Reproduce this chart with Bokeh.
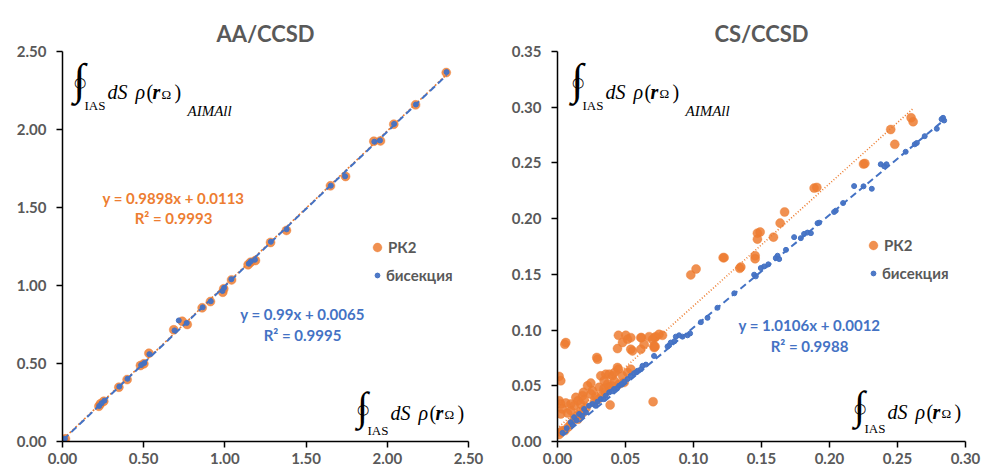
import numpy as np
from bokeh.plotting import figure
from bokeh.models import Range1d, Label, FixedTicker, NumeralTickFormatter, Legend, LegendItem
from bokeh.layouts import row
from bokeh.embed import file_html
from bokeh.resources import INLINE

ORANGE = "#ED7D31"
BLUE = "#4472C4"
GREY = "#595959"
FONT = "Lato"
SERIF = "Liberation Serif"

# ---------------- data: AA/CCSD ----------------
aa_rk2_x = [0.008, 0.018, 0.224, 0.234, 0.254, 0.347, 0.398, 0.480, 0.501, 0.532, 0.685, 0.737, 0.768,
            0.860, 0.911, 0.987, 0.993, 1.041, 1.143, 1.158, 1.188, 1.281, 1.379, 1.650, 1.743, 1.917,
            1.958, 2.040, 2.174, 2.363]
aa_rk2_y = [0.006, 0.017, 0.226, 0.242, 0.258, 0.348, 0.397, 0.487, 0.498, 0.566, 0.716, 0.771, 0.750,
            0.857, 0.897, 0.957, 0.979, 1.036, 1.133, 1.149, 1.160, 1.276, 1.353, 1.639, 1.699, 1.925,
            1.927, 2.034, 2.158, 2.365]
aa_bis_x = [0.005, 0.015, 0.226, 0.240, 0.258, 0.350, 0.400, 0.484, 0.503, 0.535, 0.690, 0.716, 0.765,
            0.863, 0.913, 0.985, 0.995, 1.040, 1.147, 1.160, 1.185, 1.283, 1.380, 1.652, 1.740, 1.920,
            1.955, 2.042, 2.176, 2.365]
aa_bis_y = [0.004, 0.018, 0.228, 0.245, 0.262, 0.352, 0.402, 0.490, 0.503, 0.560, 0.712, 0.776, 0.760,
            0.860, 0.899, 0.965, 0.985, 1.040, 1.140, 1.155, 1.165, 1.280, 1.360, 1.640, 1.700, 1.922,
            1.930, 2.036, 2.160, 2.368]
aa_rk2_fit = (0.9898, 0.0113)
aa_bis_fit = (0.99, 0.0065)

# ---------------- data: CS/CCSD ----------------
cs_rk2_x = [0.2600, 0.2615, 0.2450, 0.2480, 0.2250, 0.2260, 0.1887, 0.1907, 0.1670, 0.1637, 0.1470, 0.1490,
            0.1588, 0.1470, 0.1453, 0.1453, 0.1218, 0.1225, 0.1348, 0.1340, 0.1019, 0.0980,
            0.0448, 0.0502, 0.0515, 0.0478, 0.0539, 0.0617, 0.0637, 0.0699, 0.0715, 0.0772, 0.0711, 0.0718,
            0.0441, 0.0539, 0.0551, 0.0061, 0.0054, 0.0289, 0.0294, 0.0012, 0.0024,
            0.0245, 0.0318, 0.0355, 0.0380, 0.0404, 0.0421, 0.0441, 0.0448, 0.0478, 0.0515, 0.0490, 0.0453, 0.0539,
            0.0221, 0.0257, 0.0191, 0.0245, 0.0306, 0.0343, 0.0324, 0.0387, 0.0703,
            0.0012, 0.0024, 0.0061, 0.0098, 0.0037, 0.0024, 0.0074,
            0.0135, 0.0151, 0.0171, 0.0122, 0.0098,
            0.0184, 0.0196, 0.0166, 0.0147, 0.0122, 0.0098, 0.0078, 0.0054, 0.0024, 0.0012, 0.0037,
            0.0343, 0.0368, 0.0380,
            0.0613, 0.0674, 0.0723, 0.0747, 0.0613, 0.0710,
            0.0280, 0.0300, 0.0350, 0.0400, 0.0420, 0.0270, 0.0210, 0.0180, 0.0150]
cs_rk2_y = [0.2905, 0.2870, 0.2800, 0.2667, 0.2490, 0.2495, 0.2274, 0.2280, 0.2060, 0.1960, 0.1870, 0.1880,
            0.1834, 0.1816, 0.1667, 0.1640, 0.1650, 0.1650, 0.1566, 0.1554, 0.1548, 0.1495,
            0.0953, 0.0953, 0.0917, 0.0888, 0.0932, 0.0932, 0.0872, 0.0917, 0.0932, 0.0953, 0.0843, 0.0852,
            0.0834, 0.0828, 0.0813, 0.0888, 0.0872, 0.0754, 0.0738, 0.0584, 0.0545,
            0.0524, 0.0589, 0.0604, 0.0604, 0.0589, 0.0620, 0.0664, 0.0649, 0.0589, 0.0620, 0.0530, 0.0515, 0.0649,
            0.0500, 0.0455, 0.0441, 0.0426, 0.0486, 0.0477, 0.0411, 0.0328, 0.0357,
            0.0366, 0.0337, 0.0346, 0.0337, 0.0292, 0.0247, 0.0256,
            0.0396, 0.0366, 0.0337, 0.0321, 0.0277,
            0.0411, 0.0375, 0.0268, 0.0232, 0.0203, 0.0158, 0.0129, 0.0098, 0.0084, 0.0063, 0.0098,
            0.0545, 0.0515, 0.0486,
            0.0932, 0.0941, 0.0941, 0.0962, 0.0828, 0.0857,
            0.0400, 0.0380, 0.0440, 0.0500, 0.0540, 0.0350, 0.0300, 0.0250, 0.0200]
cs_bis_x = [0.2835, 0.2843, 0.2824, 0.2789, 0.2642, 0.2627, 0.2377, 0.2419, 0.2402, 0.2181, 0.2311, 0.2046,
            0.2034, 0.1924, 0.1912, 0.1863, 0.1838, 0.1813, 0.1740, 0.1789, 0.1618, 0.1630, 0.1605, 0.1519,
            0.1495, 0.1458, 0.1446, 0.1176, 0.1103, 0.1054, 0.0975, 0.0956, 0.0919, 0.0894, 0.0870, 0.0833,
            0.0821, 0.0809, 0.0710, 0.0625, 0.0613, 0.0588, 0.0563, 0.0539, 0.0515, 0.0490, 0.0453, 0.0416,
            0.0380, 0.0355, 0.0318, 0.0294, 0.0257, 0.0232, 0.0196, 0.0159, 0.0122, 0.0098, 0.0068, 0.0037,
            0.0470, 0.0440, 0.0400, 0.0340, 0.0280, 0.0210, 0.0180, 0.0140, 0.0110, 0.0580, 0.0650, 0.0860,
            0.1300, 0.1550, 0.1680, 0.2100, 0.2250, 0.2560, 0.2700]
cs_bis_y = [0.2905, 0.2881, 0.2893, 0.2807, 0.2679, 0.2667, 0.2488, 0.2488, 0.2470, 0.2292, 0.2268, 0.2071,
            0.2060, 0.1964, 0.1959, 0.1870, 0.1875, 0.1863, 0.1834, 0.1825, 0.1667, 0.1637, 0.1646, 0.1571,
            0.1557, 0.1482, 0.1497, 0.1200, 0.1110, 0.1071, 0.0970, 0.0953, 0.0941, 0.0953, 0.0941, 0.0888,
            0.0863, 0.0852, 0.0768, 0.0679, 0.0649, 0.0634, 0.0613, 0.0589, 0.0560, 0.0536, 0.0500, 0.0471,
            0.0441, 0.0411, 0.0381, 0.0357, 0.0337, 0.0321, 0.0292, 0.0247, 0.0218, 0.0173, 0.0120, 0.0078,
            0.0515, 0.0480, 0.0450, 0.0380, 0.0320, 0.0260, 0.0230, 0.0190, 0.0150, 0.0620, 0.0690, 0.0900,
            0.1330, 0.1590, 0.1720, 0.2140, 0.2290, 0.2600, 0.2740]
cs_rk2_fit = (1.097, 0.012)
cs_bis_fit = (1.0106, 0.0012)

aa_ticks = [0.0, 0.5, 1.0, 1.5, 2.0, 2.5]
cs_xticks = [0.0, 0.05, 0.10, 0.15, 0.20, 0.25, 0.30]
cs_yticks = [0.0, 0.05, 0.10, 0.15, 0.20, 0.25, 0.30, 0.35]


def px2d(g, px, py):
    fl, ft, fw, fh, x0, x1, y0, y1 = g
    return x0 + (px - fl) / fw * (x1 - x0), y1 - (py - ft) / fh * (y1 - y0)


def label(p, g, px, py, text, size, style="bold", color=GREY, font=FONT, align="left", baseline="middle"):
    x, y = px2d(g, px, py)
    p.add_layout(Label(x=x, y=y, text=text, text_font=font, text_font_size=size,
                       text_font_style=style, text_color=color, text_align=align,
                       text_baseline=baseline))


# text pieces after the contour integral: (dx, dy from baseline, text, size, style)
FORMULA = [
    (35, 0, "dS", "20px", "italic"),
    (63, 0, "\u03c1", "20px", "italic"),
    (74, 0, "(", "20px", "normal"),
    (80, 0, "r", "20px", "bold italic"),
    (89, 2, "\u03a9", "13px", "normal"),
    (102, 0, ")", "20px", "normal"),
]


def formula(p, g, x0, base, aimall, isize, icen, ias_dy):
    k = isize / 44.0
    label(p, g, x0 + 7, base + icen - 2.5 * k, "\u222b", f"{isize}px", "normal", "black", SERIF,
          align="center", baseline="alphabetic")
    label(p, g, x0 + 7.5, base + icen, "\u25cb", "14px", "normal", "black", "DejaVu Sans",
          align="center", baseline="middle")
    label(p, g, x0 + 12, base + ias_dy, "IAS", "13px", "normal", "black", SERIF, baseline="alphabetic")
    for dx, dy, t, s, st in FORMULA:
        label(p, g, x0 + dx, base + dy, t, s, st, "black", SERIF, baseline="alphabetic")
    if aimall:
        label(p, g, x0 + 115, base + 19, "AIMAll", "15px", "italic", "black", SERIF, baseline="alphabetic")


def panel(title, xr, yr, xticks, yticks, g, border, rk2, bis, rk2_fit, bis_fit, rk2_dash, legend_pos,
          eqs, formulas):
    fl, ft, fw, fh = g[:4]
    p = figure(width=491, height=472, output_backend="svg", toolbar_location=None,
               x_range=Range1d(*xr), y_range=Range1d(*yr),
               min_border_left=fl, min_border_top=ft, min_border_right=border[0],
               min_border_bottom=border[1])
    p.title.text = title
    p.title.align = "center"
    p.title.text_font = FONT
    p.title.text_font_size = "22px"
    p.title.text_color = GREY
    p.title.text_font_style = "bold"
    p.outline_line_color = None
    p.xgrid.visible = False
    p.ygrid.visible = False
    for ax, ticks in ((p.xaxis[0], xticks), (p.yaxis[0], yticks)):
        ax.ticker = FixedTicker(ticks=ticks)
        ax.formatter = NumeralTickFormatter(format="0.00")
        ax.axis_line_color = "black"
        ax.axis_line_width = 1.5
        ax.major_tick_line_color = "black"
        ax.major_tick_line_width = 1.5
        ax.major_tick_out = 6
        ax.major_tick_in = 0
        ax.minor_tick_line_color = None
        ax.major_label_text_font = FONT
        ax.major_label_text_font_size = "15px"
        ax.major_label_text_font_style = "bold"
        ax.major_label_text_color = GREY
    p.yaxis[0].major_label_standoff = 10
    p.xaxis[0].major_label_standoff = 5

    rx, ry = rk2
    bx, by = bis
    r1 = p.scatter(rx, ry, size=9, fill_color=ORANGE, fill_alpha=0.85, line_color=ORANGE, line_alpha=0.4)
    fx = np.array([min(rx), max(rx)])
    p.line(fx, rk2_fit[0] * fx + rk2_fit[1], line_color=ORANGE, line_width=1.6, line_dash=rk2_dash)
    r2 = p.scatter(bx, by, size=5, fill_color=BLUE, line_color=BLUE, fill_alpha=0.95)
    gx = np.array([min(bx), max(bx)])
    p.line(gx, bis_fit[0] * gx + bis_fit[1], line_color=BLUE, line_width=2, line_dash="7 4")

    for item, pos, gs, st in ((LegendItem(label="РК2", renderers=[r1]), legend_pos[0], 22, 0),
                              (LegendItem(label="бисекция", renderers=[r2]), legend_pos[1], 12, 3)):
        lg = Legend(items=[item], location=pos, glyph_width=gs, glyph_height=gs, label_height=gs,
                    label_standoff=st, padding=0, margin=0, border_line_color=None,
                    background_fill_alpha=0, label_text_font=FONT, label_text_font_size="15px",
                    label_text_font_style="bold", label_text_color=GREY)
        p.add_layout(lg)

    for (px, py, txt, col) in eqs:
        label(p, g, px, py, txt, "15px", "bold", col, align="center")
    for f in formulas:
        formula(p, g, *f)
    return p


g1 = (62, 51, 406, 390, 0.0, 2.5, 0.0, 2.5)
p1 = panel("AA/CCSD", (0, 2.5), (0, 2.5), aa_ticks, aa_ticks, g1, (23, 31),
           (aa_rk2_x, aa_rk2_y), (aa_bis_x, aa_bis_y), aa_rk2_fit, aa_bis_fit, "2 2",
           ((304, 183), (309, 157)),
           [(173, 197, "y = 0.9898x + 0.0113", ORANGE), (173, 217, "R\u00b2 = 0.9993", ORANGE),
            (302, 313, "y = 0.99x + 0.0065", BLUE), (302, 334, "R\u00b2 = 0.9995", BLUE)],
           [(72, 91.5, True, 44, -10, 13.5), (355, 412, False, 40, -3.5, 18)])

g2 = (66, 51, 408, 392, 0.0, 0.30, 0.0, 0.35)
p2 = panel("CS/CCSD", (0, 0.30), (0, 0.35), cs_xticks, cs_yticks, g2, (17, 29),
           (cs_rk2_x, cs_rk2_y), (cs_bis_x, cs_bis_y), cs_rk2_fit, cs_bis_fit, "1 2",
           ((305, 185), (310, 159)),
           [(318, 326, "y = 1.0106x + 0.0012", BLUE), (318, 347, "R\u00b2 = 0.9988", BLUE)],
           [(79, 91.5, True, 44, -10, 13.5), (361, 413, False, 40, -3.5, 17)])

layout = row(p1, p2)
open("out.html", "w").write(file_html(layout, INLINE))
